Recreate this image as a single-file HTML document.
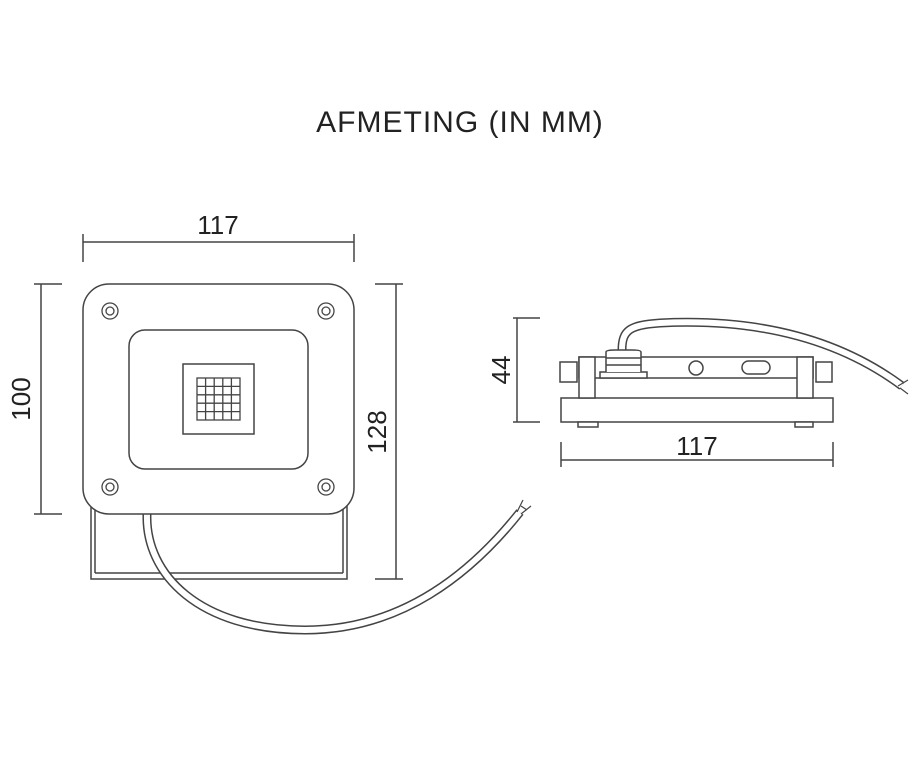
<!DOCTYPE html>
<html><head><style>
html,body{margin:0;padding:0;background:#fff;width:920px;height:758px;overflow:hidden}
text{font-family:"Liberation Sans",sans-serif;fill:#222}
</style></head><body>
<svg width="920" height="758" viewBox="0 0 920 758" xmlns="http://www.w3.org/2000/svg">
<text x="460" y="132" font-size="30" text-anchor="middle" letter-spacing="1">AFMETING (IN MM)</text>
<g stroke="#444" stroke-width="1.5" fill="none">
<!-- top dim -->
<line x1="83" y1="242" x2="354" y2="242"/>
<line x1="83" y1="234" x2="83" y2="262"/>
<line x1="354" y1="234" x2="354" y2="262"/>
<!-- left dim -->
<line x1="41" y1="284" x2="41" y2="514"/>
<line x1="34" y1="284" x2="62" y2="284"/>
<line x1="34" y1="514" x2="62" y2="514"/>
<!-- right dim -->
<line x1="396" y1="284" x2="396" y2="579"/>
<line x1="375" y1="284" x2="403" y2="284"/>
<line x1="375" y1="579" x2="403" y2="579"/>
<!-- bracket -->
<rect x="91" y="505" width="256" height="74"/>
<line x1="95" y1="573" x2="343" y2="573"/>
<line x1="95" y1="505" x2="95" y2="573"/>
<line x1="343" y1="505" x2="343" y2="573"/>
</g>
<!-- cable front -->
<path d="M147,514 C145,575 200,630 305,630 C400,630 470,575 520,512" stroke="#444" stroke-width="9" fill="none"/>
<path d="M147,514 C145,575 200,630 305,630 C400,630 470,575 520,512" stroke="#fff" stroke-width="6" fill="none"/>
<path d="M517,512 l6,-12 M521,514 l10,-8 M521,506 l6,4" stroke="#444" stroke-width="1.2" fill="none"/>
<g stroke="#444" stroke-width="1.5" fill="#fff">
<rect x="83" y="284" width="271" height="230" rx="26"/>
<rect x="129" y="330" width="179" height="139" rx="16" fill="none"/>
<rect x="183" y="364" width="71" height="70" fill="none"/>
</g>
<g stroke="#444" stroke-width="1.3" fill="none">
<rect x="197" y="378" width="43" height="42"/>
<path d="M205.6,378V420M214.2,378V420M222.8,378V420M231.4,378V420M197,386.4H240M197,394.8H240M197,403.2H240M197,411.6H240"/>
<circle cx="110" cy="311" r="8"/><circle cx="110" cy="311" r="4"/>
<circle cx="326" cy="311" r="8"/><circle cx="326" cy="311" r="4"/>
<circle cx="110" cy="487" r="8"/><circle cx="110" cy="487" r="4"/>
<circle cx="326" cy="487" r="8"/><circle cx="326" cy="487" r="4"/>
</g>
<text x="218" y="234" font-size="26" text-anchor="middle">117</text>
<text transform="translate(30,399) rotate(-90)" font-size="26" text-anchor="middle">100</text>
<text transform="translate(386,432) rotate(-90)" font-size="26" text-anchor="middle">128</text>
<!-- side view -->
<path d="M622,350 C622,330 630,325 660,323 C760,318 840,340 902,386" stroke="#444" stroke-width="9" fill="none"/>
<path d="M622,350 C622,330 630,325 660,323 C760,318 840,340 902,386" stroke="#fff" stroke-width="6" fill="none"/>
<path d="M898,386 l10,-6 M900,388 l8,6" stroke="#444" stroke-width="1.2"/>
<g stroke="#444" stroke-width="1.5" fill="#fff">
<rect x="561" y="398" width="272" height="24"/>
<rect x="578" y="422" width="20" height="5"/>
<rect x="795" y="422" width="18" height="5"/>
<rect x="579" y="357" width="234" height="21"/>
<rect x="579" y="357" width="16" height="41"/>
<rect x="797" y="357" width="16" height="41"/>
<rect x="560" y="362" width="17" height="20"/>
<rect x="816" y="362" width="16" height="20"/>
<rect x="600" y="372" width="47" height="6"/>
<path d="M606,372 V352 Q606,350 615,350 H632 Q641,350 641,352 V372"/>
<path d="M606,358 H641 M606,365 H641"/>
<circle cx="696" cy="368" r="7"/>
<rect x="742" y="361" width="28" height="13" rx="6.5"/>
</g>
<g stroke="#444" stroke-width="1.5">
<line x1="517" y1="318" x2="517" y2="422"/>
<line x1="513" y1="318" x2="540" y2="318"/>
<line x1="513" y1="422" x2="540" y2="422"/>
<line x1="561" y1="460" x2="833" y2="460"/>
<line x1="561" y1="442" x2="561" y2="467"/>
<line x1="833" y1="442" x2="833" y2="467"/>
</g>
<text transform="translate(510,370) rotate(-90)" font-size="26" text-anchor="middle">44</text>
<text x="697" y="455" font-size="26" text-anchor="middle">117</text>
</svg>
</body></html>
